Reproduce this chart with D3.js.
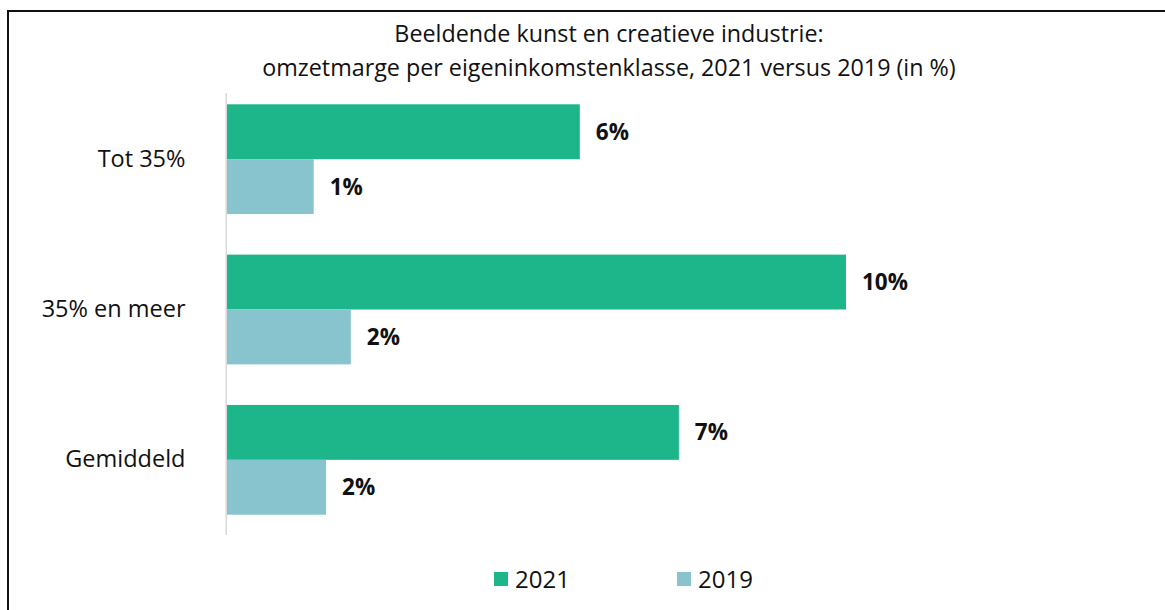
<!DOCTYPE html>
<html><head><meta charset="utf-8">
<script src="https://cdn.jsdelivr.net/npm/d3@7"></script>
<style>html,body{margin:0;padding:0;background:#fff;}svg{display:block;}</style>
</head><body>
<svg id="chart" width="1165" height="610"></svg>
<script>
const titleLines = ["Beeldende kunst en creatieve industrie:", "omzetmarge per eigeninkomstenklasse, 2021 versus 2019 (in %)"];
const categories = ["Tot 35%", "35% en meer", "Gemiddeld"];
const seriesNames = ["2021", "2019"];
const values2021 = [5.7, 10.0, 7.3];
const values2019 = [1.4, 2.0, 1.6];
const colors = ["#1cb68a", "#87c4ce"];

const svg = d3.select("#chart");
const font = "'Open Sans', 'Noto Sans', sans-serif";

// outer frame
svg.append("rect").attr("x", 8).attr("y", 11).attr("width", 1170).attr("height", 620)
  .attr("fill", "none").attr("stroke", "#111").attr("stroke-width", 2);

// title
svg.append("g").selectAll("text").data(titleLines).join("text")
  .attr("x", 609).attr("y", (d, i) => 42 + i * 34)
  .attr("text-anchor", "middle").attr("font-family", font).attr("font-size", 23.3)
  .attr("fill", "#111").text(d => d);

const x = d3.scaleLinear().domain([0, 10]).range([227, 846]);
const y = d3.scaleBand().domain(categories).range([84, 535]).paddingInner(0.27).paddingOuter(0.135);
const y1 = d3.scaleBand().domain(seriesNames).range([0, y.bandwidth()]);

const data = categories.map((c, i) => ({cat: c, vals: [
  {s: "2021", v: values2021[i]}, {s: "2019", v: values2019[i]}]}));

const groups = svg.append("g").selectAll("g").data(data).join("g")
  .attr("transform", d => `translate(0,${y(d.cat)})`);

groups.selectAll("rect").data(d => d.vals).join("rect")
  .attr("x", x(0)).attr("y", d => y1(d.s))
  .attr("width", d => x(d.v) - x(0)).attr("height", y1.bandwidth())
  .attr("fill", d => colors[seriesNames.indexOf(d.s)]);

groups.selectAll("text").data(d => d.vals).join("text")
  .attr("x", d => x(d.v) + 16).attr("y", d => y1(d.s) + y1.bandwidth() / 2)
  .attr("dy", "0.36em").attr("font-family", font).attr("font-size", 22.5)
  .attr("font-weight", "bold").attr("fill", "#111")
  .text(d => Math.round(d.v) + "%");

// y axis
const yAxis = d3.axisLeft(y).tickSize(0).tickPadding(41);
const ga = svg.append("g").attr("transform", `translate(${x(0) - 0.5},0)`).call(yAxis);
ga.select(".domain").remove();
ga.selectAll("text").attr("font-family", font).attr("font-size", 23.5).attr("fill", "#111");
svg.append("line").attr("x1", x(0) - 0.75).attr("x2", x(0) - 0.75).attr("y1", 93).attr("y2", 535)
  .attr("stroke", "#d9d9d9").attr("stroke-width", 1.5);

// legend
const legX = [494, 677];
const leg = svg.append("g").selectAll("g").data(seriesNames).join("g")
  .attr("transform", (d, i) => `translate(${legX[i]},572)`);
leg.append("rect").attr("width", 14).attr("height", 14).attr("fill", (d, i) => colors[i]);
leg.append("text").attr("x", 21).attr("y", 7).attr("dy", "0.36em")
  .attr("font-family", font).attr("font-size", 24).attr("fill", "#111").text(d => d);
</script>
</body></html>
